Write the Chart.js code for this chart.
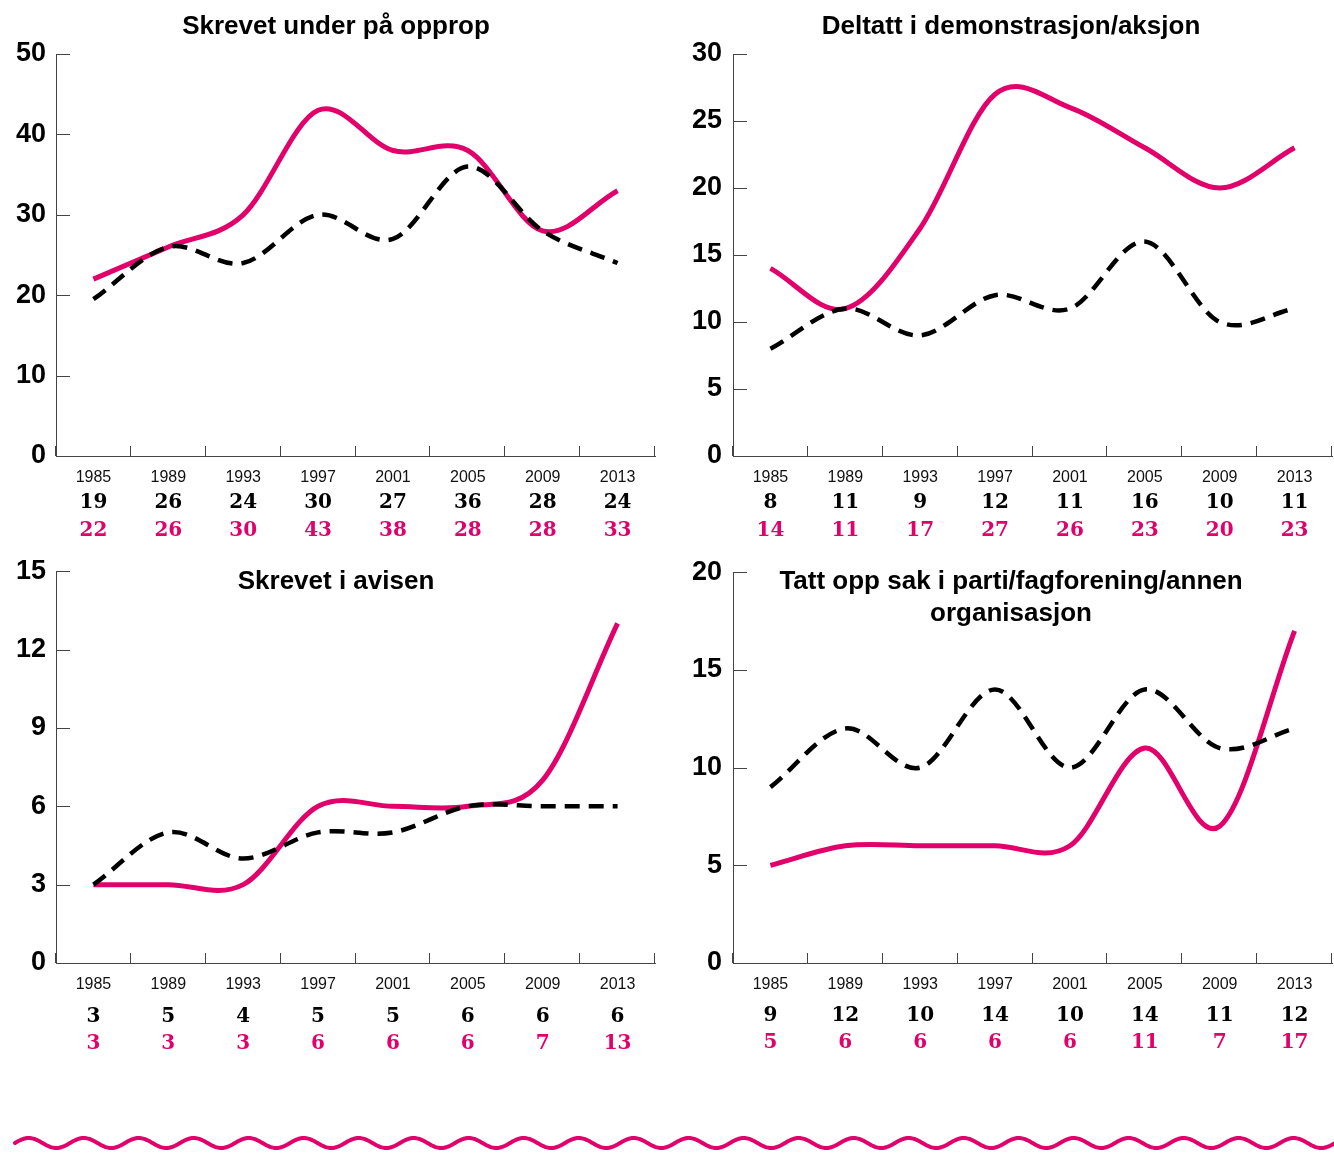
<!DOCTYPE html>
<html><head><meta charset="utf-8">
<script src="https://cdn.jsdelivr.net/npm/chart.js@4.4.1/dist/chart.umd.min.js"></script>
<style>
html,body{margin:0;padding:0;background:#fff;}
body{width:1334px;height:1153px;position:relative;overflow:hidden;}
canvas{position:absolute;}
</style></head>
<body>
<canvas id="c1" width="667" height="545" style="left:0;top:0"></canvas>
<canvas id="c2" width="667" height="545" style="left:667px;top:0"></canvas>
<canvas id="c3" width="667" height="555" style="left:0;top:545px"></canvas>
<canvas id="c4" width="667" height="555" style="left:667px;top:545px"></canvas>
<canvas id="wave" width="1334" height="30" style="left:0;top:1125px"></canvas>
<script>
// ---- data ----
const years = ['1985','1989','1993','1997','2001','2005','2009','2013'];

const title1 = ['Skrevet under på opprop'];
const black1 = [19.5, 26, 24, 30, 27, 36, 28, 24];
const pink1  = [22, 26, 30, 43, 38, 38, 28, 33];
const blackLabels1 = ['19','26','24','30','27','36','28','24'];
const pinkLabels1  = ['22','26','30','43','38','28','28','33'];
const yTicks1 = [0, 10, 20, 30, 40, 50];

const title2 = ['Deltatt i demonstrasjon/aksjon'];
const black2 = [8, 11, 9, 12, 11, 16, 10, 11];
const pink2  = [14, 11, 17, 27, 26, 23, 20, 23];
const blackLabels2 = ['8','11','9','12','11','16','10','11'];
const pinkLabels2  = ['14','11','17','27','26','23','20','23'];
const yTicks2 = [0, 5, 10, 15, 20, 25, 30];

const title3 = ['Skrevet i avisen'];
const black3 = [3, 5, 4, 5, 5, 6, 6, 6];
const pink3  = [3, 3, 3, 6, 6, 6, 7, 13];
const blackLabels3 = ['3','5','4','5','5','6','6','6'];
const pinkLabels3  = ['3','3','3','6','6','6','7','13'];
const yTicks3 = [0, 3, 6, 9, 12, 15];

const title4 = ['Tatt opp sak i parti/fagforening/annen', 'organisasjon'];
const black4 = [9, 12, 10, 14, 10, 14, 11, 12];
const pink4  = [5, 6, 6, 6, 6, 11, 7, 17];
const blackLabels4 = ['9','12','10','14','10','14','11','12'];
const pinkLabels4  = ['5','6','6','6','6','11','7','17'];
const yTicks4 = [0, 5, 10, 15, 20];

// ---- style ----
const PINK = '#e2006b';
const AXIS = '#444';

// uniform Catmull-Rom style smoothing of the library's bezier control points
const smoothPlugin = {
  id: 'smooth',
  beforeDatasetsDraw(chart) {
    chart.data.datasets.forEach((ds, di) => {
      const meta = chart.getDatasetMeta(di);
      const line = meta.dataset;
      if (line && line.updateControlPoints) line.updateControlPoints(chart.chartArea, 'x');
      const pts = meta.data;
      const n = pts.length;
      for (let i = 0; i < n; i++) {
        const p = pts[i];
        const prev = pts[Math.max(i - 1, 0)], next = pts[Math.min(i + 1, n - 1)];
        const dx = next.x - prev.x, dy = next.y - prev.y;
        const f = (i === 0 || i === n - 1) ? 1 / 3 : 1 / 6;
        p.cp1x = p.x - dx * f; p.cp1y = p.y - dy * f;
        p.cp2x = p.x + dx * f; p.cp2y = p.y + dy * f;
      }
      if (line) line._path = undefined;
    });
  }
};

const decoPlugin = {
  id: 'deco',
  afterDraw(chart, args, o) {
    const ctx = chart.ctx;
    const a = chart.chartArea;
    const xs = chart.scales.x, ys = chart.scales.y;
    ctx.save();
    ctx.strokeStyle = AXIS; ctx.lineWidth = 1;
    ys.ticks.forEach(t => {
      const y = Math.round(ys.getPixelForValue(t.value)) + 0.5;
      ctx.beginPath(); ctx.moveTo(a.left, y); ctx.lineTo(a.left + 14, y); ctx.stroke();
    });
    const n = xs.ticks.length;
    const step = (a.right - a.left) / n;
    for (let i = 0; i <= n; i++) {
      const x = Math.round(a.left + i * step) - 0.5;
      ctx.beginPath(); ctx.moveTo(x, a.bottom); ctx.lineTo(x, a.bottom - 10); ctx.stroke();
    }
    ctx.fillStyle = '#000';
    ctx.font = 'bold 26px "Liberation Sans", Arial, sans-serif';
    ctx.textAlign = 'center'; ctx.textBaseline = 'middle';
    o.title.forEach((line, i) => ctx.fillText(line, o.titleX, o.titleY + i * 32));
    ctx.font = 'bold 20px "DejaVu Serif", Georgia, serif';
    o.rows.forEach(r => {
      ctx.fillStyle = r.color;
      r.labels.forEach((lab, i) => {
        ctx.fillText(lab, xs.getPixelForValue(i), a.bottom + r.dy);
      });
    });
    ctx.restore();
  }
};

function makeChart(id, p) {
  new Chart(document.getElementById(id), {
    type: 'line',
    data: {
      labels: years,
      datasets: [
        { data: p.black, borderColor: '#000', borderWidth: 4.5, borderDash: [15, 9],
          borderCapStyle: 'butt', pointRadius: 0, tension: 0.4, fill: false },
        { data: p.pink, borderColor: PINK, borderWidth: 5,
          borderCapStyle: 'butt', pointRadius: 0, tension: 0.4, fill: false }
      ]
    },
    options: {
      responsive: false, animation: false, devicePixelRatio: 1,
      layout: { padding: { left: 0, right: p.padRight, top: p.padTop, bottom: 0 } },
      plugins: {
        legend: { display: false }, tooltip: { enabled: false },
        deco: { title: p.title, titleX: p.titleX, titleY: p.titleY,
          rows: [ { labels: p.blackLabels, color: '#000', dy: p.rowDy[0] },
                  { labels: p.pinkLabels, color: PINK, dy: p.rowDy[1] } ] }
      },
      scales: {
        x: {
          offset: true,
          grid: { display: false, drawTicks: false, offset: true },
          border: { display: true, color: AXIS, width: 1 },
          ticks: { color: '#111', font: { family: '"Liberation Sans", Arial, sans-serif', size: 16 },
                   padding: 12, maxRotation: 0, autoSkip: false },
          afterFit: s => { s.height = p.xHeight; }
        },
        y: {
          min: 0, max: p.yTicks[p.yTicks.length - 1],
          afterBuildTicks: s => { s.ticks = p.yTicks.map(v => ({ value: v })); },
          grid: { display: false, drawTicks: false },
          border: { display: true, color: AXIS, width: 1 },
          ticks: { color: '#000', padding: p.yPad,
                   font: { family: '"Liberation Sans", Arial, sans-serif', size: 27, weight: 'bold' } },
          afterFit: s => { s.width = p.yWidth; }
        }
      }
    },
    plugins: [smoothPlugin, decoPlugin]
  });
}

makeChart('c1', { black: black1, pink: pink1, blackLabels: blackLabels1, pinkLabels: pinkLabels1,
  yTicks: yTicks1, title: title1, titleX: 336, titleY: 27, padTop: 54, padRight: 12,
  yWidth: 56, yPad: 10, xHeight: 89, rowDy: [47, 75] });
makeChart('c2', { black: black2, pink: pink2, blackLabels: blackLabels2, pinkLabels: pinkLabels2,
  yTicks: yTicks2, title: title2, titleX: 344, titleY: 27, padTop: 54, padRight: 2,
  yWidth: 66, yPad: 11, xHeight: 89, rowDy: [47, 75] });
makeChart('c3', { black: black3, pink: pink3, blackLabels: blackLabels3, pinkLabels: pinkLabels3,
  yTicks: yTicks3, title: title3, titleX: 336, titleY: 37, padTop: 16, padRight: 12,
  yWidth: 56, yPad: 10, xHeight: 137, rowDy: [54, 81] });
makeChart('c4', { black: black4, pink: pink4, blackLabels: blackLabels4, pinkLabels: pinkLabels4,
  yTicks: yTicks4, title: title4, titleX: 344, titleY: 37, padTop: 16, padRight: 2,
  yWidth: 66, yPad: 11, xHeight: 137, rowDy: [53, 80] });

// decorative wave at the bottom
(function () {
  const ctx = document.getElementById('wave').getContext('2d');
  ctx.strokeStyle = PINK; ctx.lineWidth = 4; ctx.lineCap = 'round';
  ctx.beginPath();
  for (let x = 15; x <= 1334; x += 1) {
    const y = 18 - 5 * Math.sin(2 * Math.PI * (x - 15) / 55);
    if (x === 15) ctx.moveTo(x, y); else ctx.lineTo(x, y);
  }
  ctx.stroke();
})();
</script>
</body></html>
